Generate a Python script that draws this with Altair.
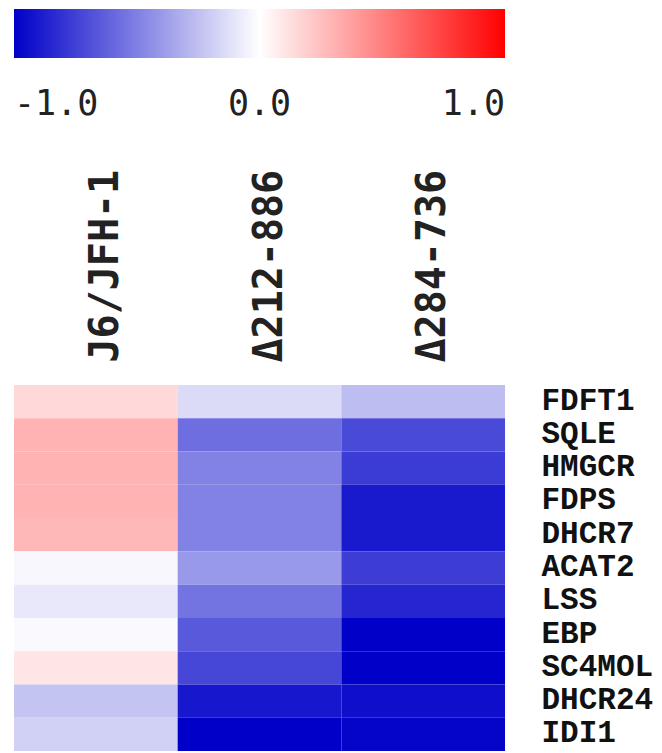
import altair as alt
import pandas as pd

genes = ["FDFT1", "SQLE", "HMGCR", "FDPS", "DHCR7", "ACAT2", "LSS", "EBP", "SC4MOL", "DHCR24", "IDI1"]
samples = ["J6/JFH-1", "Δ212-886", "Δ284-736"]
j6_vals = [0.15, 0.30, 0.30, 0.30, 0.28, -0.03, -0.09, -0.02, 0.10, -0.23, -0.18]
d212_vals = [-0.14, -0.57, -0.49, -0.49, -0.49, -0.40, -0.55, -0.65, -0.72, -0.91, -1.0]
d284_vals = [-0.26, -0.71, -0.77, -0.90, -0.90, -0.76, -0.85, -1.0, -1.0, -0.94, -0.98]
legend_ticks = [-1.0, 0.0, 1.0]

rows = []
for s, vals in zip(samples, [j6_vals, d212_vals, d284_vals]):
    for g, v in zip(genes, vals):
        rows.append({"sample": s, "gene": g, "value": v})
df = pd.DataFrame(rows)

color = alt.Color(
    "value:Q",
    scale=alt.Scale(domain=[-1, 0, 1], range=["#0000c8", "#ffffff", "#ff0000"], interpolate="rgb"),
    legend=alt.Legend(
        orient="none", direction="horizontal", legendX=0, legendY=-376,
        gradientLength=491, gradientThickness=49, gradientStrokeWidth=0,
        title=None, values=legend_ticks,
        labelExpr="replace(format(datum.value, '.1f'), '\u2212', '-')",
        labelFont="DejaVu Sans Mono", labelFontSize=35, labelColor="#222222",
        labelOffset=29, padding=0,
    ),
)

chart = alt.Chart(df).mark_rect().encode(
    x=alt.X("sample:N", sort=samples, scale=alt.Scale(paddingInner=0, paddingOuter=0),
            axis=alt.Axis(orient="top", title=None, ticks=False, domain=False,
                          labelAngle=270, labelAlign="left", labelBaseline="middle",
                          labelFont="DejaVu Sans Mono", labelFontWeight="bold", labelFontSize=40,
                          labelColor="#222222", labelPadding=23, labelOffset=10, labelLimit=400)),
    y=alt.Y("gene:N", sort=genes, scale=alt.Scale(paddingInner=0, paddingOuter=0),
            axis=alt.Axis(orient="right", title=None, ticks=False, domain=False,
                          labelFont="Liberation Mono", labelFontWeight="bold", labelFontSize=31,
                          labelColor="#111111", labelPadding=36, labelOffset=-1, labelLimit=400)),
    color=color,
).properties(
    width=491, height=366,
    padding={"left": 14, "top": 385, "right": 157, "bottom": 2},
    autosize="none",
).configure_view(strokeWidth=0)

chart.save("out.html", embed_options={"renderer": "svg", "actions": False})
